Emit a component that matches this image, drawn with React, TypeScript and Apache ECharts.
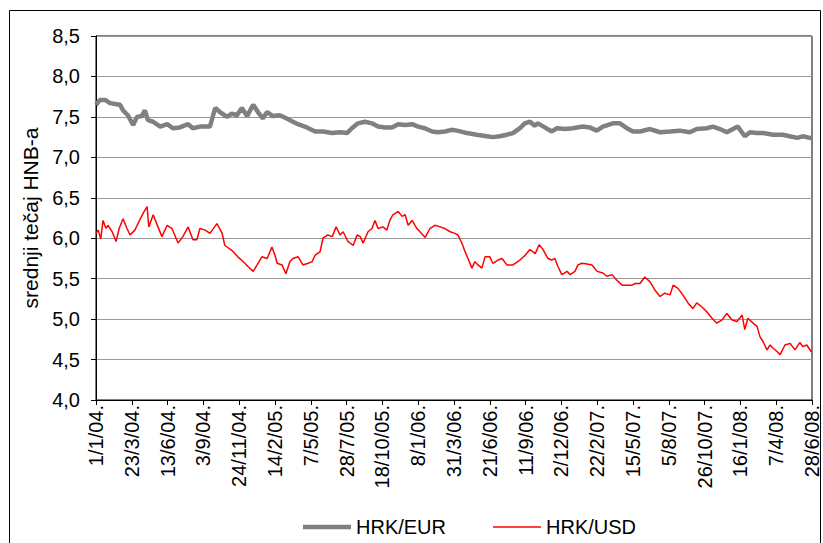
import React, { useEffect, useRef } from "react";
import * as echarts from "echarts";

// Day offsets are counted from 1/1/04 (day 0) to 28/6/08 (day 1640)
const xTickLabels = [
  "1/1/04.", "23/3/04.", "13/6/04.", "3/9/04.", "24/11/04.", "14/2/05.", "7/5/05.",
  "28/7/05.", "18/10/05.", "8/1/06.", "31/3/06.", "21/6/06.", "11/9/06.", "2/12/06.",
  "22/2/07.", "15/5/07.", "5/8/07.", "26/10/07.", "16/1/08.", "7/4/08.", "28/6/08.",
];

const eurDays = [
  0, 9, 21, 32, 44, 55, 62, 73, 85, 94, 105, 112, 119, 131, 147, 163, 176, 192, 211, 222,
  238, 250, 261, 273, 284, 300, 311, 323, 334, 346, 360, 371, 382, 392, 405, 421, 437, 451,
  467, 483, 502, 520, 541, 559, 575, 586, 600, 616, 632, 646, 662, 678, 692, 708, 724, 738,
  753, 770, 783, 799, 815, 827, 850, 872, 895, 909, 925, 941, 955, 971, 982, 994, 1005, 1012,
  1028, 1044, 1056, 1074, 1092, 1115, 1131, 1147, 1161, 1184, 1200, 1216, 1230, 1246, 1269,
  1292, 1315, 1337, 1360, 1376, 1399, 1413, 1429, 1445, 1459, 1470, 1486, 1498, 1514, 1528,
  1551, 1573, 1589, 1606, 1619, 1635, 1640,
];
const eurValues = [
  7.65, 7.71, 7.71, 7.67, 7.66, 7.65, 7.58, 7.52, 7.4, 7.5, 7.51, 7.58, 7.46, 7.44, 7.38, 7.41,
  7.36, 7.37, 7.41, 7.36, 7.38, 7.38, 7.38, 7.61, 7.56, 7.5, 7.54, 7.52, 7.61, 7.51, 7.65, 7.56,
  7.48, 7.56, 7.51, 7.52, 7.48, 7.44, 7.4, 7.37, 7.32, 7.32, 7.3, 7.31, 7.3, 7.36, 7.42, 7.44,
  7.42, 7.38, 7.37, 7.37, 7.41, 7.4, 7.41, 7.38, 7.36, 7.32, 7.31, 7.32, 7.34, 7.33, 7.3, 7.28,
  7.26, 7.25, 7.26, 7.28, 7.3, 7.36, 7.42, 7.44, 7.39, 7.42, 7.37, 7.32, 7.36, 7.35, 7.36, 7.38,
  7.37, 7.33, 7.38, 7.42, 7.42, 7.36, 7.32, 7.32, 7.35, 7.31, 7.32, 7.33, 7.31, 7.35, 7.36, 7.38,
  7.35, 7.31, 7.35, 7.38, 7.26, 7.31, 7.3, 7.3, 7.28, 7.28, 7.26, 7.24, 7.26, 7.24, 7.24,
];

const usdDays = [
  0, 5, 11, 16, 23, 27, 37, 46, 53, 62, 71, 78, 89, 98, 108, 117, 121, 131, 142, 151, 163,
  174, 188, 199, 211, 222, 231, 238, 250, 261, 277, 289, 295, 311, 325, 341, 348, 360, 369,
  380, 392, 403, 410, 415, 426, 435, 444, 451, 463, 474, 486, 495, 502, 513, 520, 531, 541,
  550, 559, 566, 577, 589, 598, 605, 612, 623, 632, 639, 646, 657, 666, 673, 680, 692, 701,
  708, 715, 724, 735, 742, 754, 765, 776, 788, 799, 811, 822, 829, 838, 845, 852, 861, 868,
  875, 884, 891, 902, 909, 921, 930, 941, 955, 971, 983, 994, 1006, 1015, 1024, 1035, 1044,
  1051, 1058, 1067, 1079, 1086, 1097, 1104, 1113, 1125, 1136, 1148, 1161, 1170, 1182, 1193,
  1205, 1216, 1228, 1235, 1246, 1257, 1269, 1280, 1292, 1303, 1315, 1322, 1333, 1344, 1356,
  1367, 1376, 1388, 1399, 1411, 1422, 1434, 1445, 1457, 1468, 1480, 1486, 1493, 1505, 1514,
  1521, 1528, 1537, 1544, 1551, 1560, 1567, 1578, 1590, 1601, 1612, 1619, 1628, 1638, 1640,
];
const usdValues = [
  6.06, 6.1, 5.99, 6.22, 6.12, 6.16, 6.08, 5.96, 6.12, 6.24, 6.12, 6.04, 6.1, 6.2, 6.31, 6.39,
  6.14, 6.29, 6.14, 6.02, 6.16, 6.12, 5.94, 6.02, 6.14, 5.98, 5.98, 6.12, 6.1, 6.06, 6.18, 6.06,
  5.91, 5.85, 5.77, 5.69, 5.65, 5.59, 5.67, 5.77, 5.75, 5.89, 5.79, 5.69, 5.67, 5.56, 5.71, 5.75,
  5.77, 5.67, 5.69, 5.71, 5.79, 5.83, 6.0, 6.04, 6.02, 6.14, 6.04, 6.08, 5.96, 5.91, 6.04, 6.02,
  5.94, 6.08, 6.12, 6.22, 6.12, 6.14, 6.1, 6.22, 6.29, 6.33, 6.27, 6.29, 6.16, 6.22, 6.12, 6.08,
  6.01, 6.12, 6.16, 6.14, 6.12, 6.08, 6.06, 6.04, 5.94, 5.84, 5.75, 5.63, 5.71, 5.67, 5.63, 5.77,
  5.77, 5.69, 5.73, 5.75, 5.67, 5.67, 5.73, 5.79, 5.86, 5.81, 5.92, 5.86, 5.75, 5.73, 5.75, 5.65,
  5.55, 5.59, 5.55, 5.59, 5.67, 5.69, 5.68, 5.67, 5.59, 5.57, 5.53, 5.55, 5.48, 5.42, 5.42, 5.42,
  5.44, 5.44, 5.52, 5.46, 5.36, 5.28, 5.32, 5.3, 5.42, 5.38, 5.3, 5.2, 5.13, 5.2, 5.15, 5.09,
  5.01, 4.95, 4.99, 5.07, 4.99, 4.97, 5.05, 4.87, 5.01, 4.95, 4.91, 4.78, 4.72, 4.62, 4.68, 4.64,
  4.6, 4.56, 4.68, 4.7, 4.62, 4.71, 4.66, 4.68, 4.6, 4.6,
];

const seriesNames = ["HRK/EUR", "HRK/USD"];
const yAxisTitle = "srednji tečaj HNB-a";

const FONT = "'Liberation Sans', Arial, sans-serif";

export default function App() {
  const ref = useRef<HTMLDivElement>(null);
  useEffect(() => {
    if (!ref.current) return;
    const chart = echarts.init(ref.current, null, { renderer: "svg" });
    chart.setOption({
      animation: false,
      backgroundColor: "#ffffff",
      textStyle: { fontFamily: FONT, color: "#000" },
      grid: {
        left: 96,
        right: 11,
        top: 36,
        bottom: 143,
        show: true,
        borderColor: "#000",
        borderWidth: 1,
        backgroundColor: "transparent",
      },
      graphic: [
        {
          type: "rect",
          shape: { x: 9.5, y: 10.5, width: 811, height: 545 },
          style: { fill: "none", stroke: "#000", lineWidth: 1 },
          silent: true,
        },
      ],
      legend: {
        data: [
          { name: seriesNames[0], icon: "path://M0,0h48v4.5h-48z" },
          { name: seriesNames[1], icon: "path://M0,0h48v1.6h-48z" },
        ],
        left: 298,
        top: 512,
        itemWidth: 48,
        itemHeight: 14,
        itemGap: 47,
        textStyle: { fontSize: 20, color: "#000", fontFamily: FONT },
      },
      xAxis: {
        type: "value",
        min: 0,
        max: 1640,
        interval: 82,
        splitLine: { show: false },
        axisLine: { lineStyle: { color: "#000", width: 1 } },
        axisTick: { show: true, length: 5, lineStyle: { color: "#000" } },
        axisLabel: {
          rotate: 90,
          margin: 5,
          fontSize: 20,
          color: "#000",
          fontFamily: FONT,
          showMinLabel: true,
          showMaxLabel: true,
          formatter: (v: number) => xTickLabels[Math.round(v / 82)] ?? "",
        },
      },
      yAxis: {
        type: "value",
        min: 4,
        max: 8.5,
        interval: 0.5,
        name: yAxisTitle,
        nameLocation: "middle",
        nameGap: 42,
        nameTextStyle: { fontSize: 21, color: "#000", fontFamily: FONT },
        axisLine: { show: true, lineStyle: { color: "#000", width: 1 } },
        axisTick: { show: true, length: 5, lineStyle: { color: "#000" } },
        splitLine: { show: true, lineStyle: { color: "#999999", width: 1 } },
        axisLabel: {
          margin: 16,
          fontSize: 20,
          color: "#000",
          fontFamily: FONT,
          formatter: (v: number) => v.toFixed(1).replace(".", ","),
        },
      },
      series: [
        {
          name: seriesNames[0],
          type: "line",
          symbol: "none",
          data: eurDays.map((d, i) => [d, eurValues[i]]),
          lineStyle: { color: "#808080", width: 4.5 },
          itemStyle: { color: "#808080" },
        },
        {
          name: seriesNames[1],
          type: "line",
          symbol: "none",
          data: usdDays.map((d, i) => [d, usdValues[i]]),
          lineStyle: { color: "#ff0000", width: 1.5 },
          itemStyle: { color: "#ff0000" },
        },
      ],
    });
    return () => chart.dispose();
  }, []);
  return (
    <div
      ref={ref}
      style={{ position: "fixed", left: 0, top: 0, width: 823, height: 543, background: "#fff" }}
    />
  );
}
